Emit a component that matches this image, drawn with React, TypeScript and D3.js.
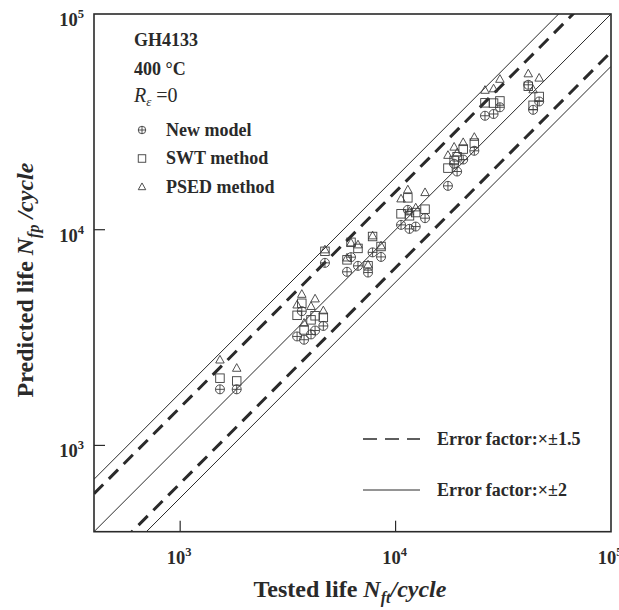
import React from "react";
import * as d3 from "d3";

// Tested life N_ft (cycles) for each specimen
const testedLife = [1530, 1830, 3490, 3670, 3760, 4050, 4230, 4620, 4700, 5950, 6210, 6690, 7450, 7820, 8560, 10600, 11400, 11600, 12400, 13700, 17500, 18700, 19300, 20600, 23200, 26000, 28500, 30500, 41300, 43500, 46400];
// Predicted lives N_fp
const newModel = [1820, 1820, 3200, 4190, 3090, 3270, 3410, 3580, 7020, 6380, 7460, 6800, 6330, 7850, 7480, 10530, 12360, 10090, 10340, 11310, 15970, 20210, 18610, 21150, 23220, 33750, 34390, 36950, 46970, 35960, 39310];
const swtMethod = [2050, 1990, 4010, 4560, 3430, 3820, 3990, 3920, 7940, 7250, 8740, 8190, 6800, 9300, 8360, 11850, 14050, 11600, 12010, 12450, 19300, 20930, 21780, 23650, 25210, 38750, 38640, 39530, 46230, 37740, 41450];
const psedMethod = [2490, 2280, 4480, 5020, 3690, 4410, 4780, 4210, 8070, 7400, 8690, 8510, 6870, 9370, 8420, 13900, 15310, 12100, 12630, 14870, 22130, 24160, 22730, 25370, 26820, 44310, 45020, 49830, 52830, 44540, 50470];

const axisDomain = [398.1, 100000];
const tickValues = [1000, 10000, 100000];
const tickExponents = ["3", "4", "5"];
const dashedFactor = 1.5;
const solidFactor = 1.75;
const infoLines = ["GH4133", "400 °C"];
const seriesNames = ["New model", "SWT method", "PSED method"];
const errorLabels = ["Error factor:×±1.5", "Error factor:×±2"];

const FONT = "'Liberation Serif', 'Times New Roman', serif";
const INK = "#2a2a2a";
const MARK = "#3c3c3c";

const L = 94, R = 611, T = 14, B = 531.7;

function Marker({ kind, cx, cy, s }: { kind: number; cx: number; cy: number; s: number }) {
  if (kind === 0) {
    const r = s / 2;
    return (
      <g stroke={MARK} strokeWidth={0.9} fill="none">
        <circle cx={cx} cy={cy} r={r} />
        <line x1={cx - r} x2={cx + r} y1={cy} y2={cy} />
        <line x1={cx} x2={cx} y1={cy - r} y2={cy + r} />
      </g>
    );
  }
  if (kind === 1) {
    return <rect x={cx - s / 2} y={cy - s / 2} width={s} height={s} stroke={MARK} strokeWidth={0.9} fill="none" />;
  }
  const h = s * 0.9;
  const p = `M${cx},${cy - h * 0.6} L${cx + s / 2},${cy + h * 0.4} L${cx - s / 2},${cy + h * 0.4} Z`;
  return <path d={p} stroke={MARK} strokeWidth={0.9} fill="none" />;
}

export default function App() {
  const x = d3.scaleLog().domain(axisDomain).range([L, R]);
  const y = d3.scaleLog().domain(axisDomain).range([B, T]);
  const line = d3.line<number>().x((d) => x(d)).y((d) => y(d));

  const refLine = (f: number) => {
    const pts = axisDomain.map((v) => [v, v * f]);
    return d3.line<number[]>().x((d) => x(d[0])).y((d) => y(d[1]))(pts) as string;
  };

  const series = [newModel, swtMethod, psedMethod];

  return (
    <svg width={619} height={610} style={{ position: "absolute", left: 0, top: 0, background: "#fff" }} fontFamily={FONT}>
      <defs>
        <clipPath id="plot">
          <rect x={L} y={T} width={R - L} height={B - T} />
        </clipPath>
      </defs>
      <g clipPath="url(#plot)">
        <path d={line(axisDomain) as string} stroke={INK} strokeWidth={1} fill="none" />
        {[solidFactor, 1 / solidFactor].map((f, i) => (
          <path key={"s" + i} d={refLine(f)} stroke={INK} strokeWidth={1} fill="none" />
        ))}
        {[dashedFactor, 1 / dashedFactor].map((f, i) => (
          <path key={"d" + i} d={refLine(f)} stroke={INK} strokeWidth={3} strokeDasharray="13,8" fill="none" />
        ))}
        {series.map((vals, k) =>
          vals.map((v, i) => <Marker key={k + "-" + i} kind={k} cx={x(testedLife[i])} cy={y(v)} s={k === 0 ? 9 : 8.5} />)
        )}
      </g>
      {/* frame */}
      <rect x={L} y={T} width={R - L} height={B - T} fill="none" stroke={INK} strokeWidth={1.6} />
      {/* ticks */}
      {tickValues.slice(0, 2).map((t) => (
        <g key={"xt" + t} stroke={INK} strokeWidth={1.2}>
          <line x1={x(t)} x2={x(t)} y1={B} y2={B - 11} />
          <line x1={L} x2={L + 11} y1={y(t)} y2={y(t)} />
        </g>
      ))}
      {tickValues.map((t, i) => (
        <text key={"xl" + t} x={x(t) - 1} y={564} textAnchor="middle" fontWeight="bold" fontSize={18.5} fill={INK}>
          10<tspan fontSize={12.5} dy={-8}>{tickExponents[i]}</tspan>
        </text>
      ))}
      {tickValues.map((t, i) => (
        <text key={"yl" + t} x={84} y={y(t) + 12} textAnchor="end" fontWeight="bold" fontSize={18.5} fill={INK}>
          10<tspan fontSize={12.5} dy={-8}>{tickExponents[i]}</tspan>
        </text>
      ))}
      {/* axis titles */}
      <text x={350} y={597} textAnchor="middle" fontWeight="bold" fontSize={24} fill={INK}>
        Tested life <tspan fontStyle="italic">N</tspan>
        <tspan fontStyle="italic" fontSize={16} dy={6}>ft</tspan>
        <tspan fontStyle="italic" dy={-6}>/cycle</tspan>
      </text>
      <text transform={`translate(33,280) rotate(-90)`} textAnchor="middle" fontWeight="bold" fontSize={24} fill={INK}>
        Predicted life <tspan fontStyle="italic">N</tspan>
        <tspan fontStyle="italic" fontSize={16} dy={6}>fp</tspan>
        <tspan fontStyle="italic" dy={-6}> /cycle</tspan>
      </text>
      {/* info block */}
      <text x={134} y={46} fontWeight="bold" fontSize={18} fill={INK}>{infoLines[0]}</text>
      <text x={134} y={75} fontWeight="bold" fontSize={18} fill={INK}>{infoLines[1]}</text>
      <text x={134} y={102} fontSize={20} fill={INK}>
        <tspan fontStyle="italic">R</tspan>
        <tspan fontStyle="italic" fontSize={13} dy={4}>ε</tspan>
        <tspan dy={-4}> =0</tspan>
      </text>
      {seriesNames.map((n, k) => (
        <g key={n}>
          <Marker kind={k} cx={142} cy={130 + k * 28.5} s={7.5} />
          <text x={166} y={135.5 + k * 28.8} fontWeight="bold" fontSize={18} fill={INK}>{n}</text>
        </g>
      ))}
      {/* error factor legend */}
      <line x1={363} x2={420} y1={439} y2={439} stroke={INK} strokeWidth={1.5} strokeDasharray="14,8" />
      <text x={437} y={445} fontWeight="bold" fontSize={18} fill={INK}>{errorLabels[0]}</text>
      <line x1={363} x2={420} y1={490} y2={490} stroke={INK} strokeWidth={1} />
      <text x={437} y={496} fontWeight="bold" fontSize={18} fill={INK}>{errorLabels[1]}</text>
    </svg>
  );
}
